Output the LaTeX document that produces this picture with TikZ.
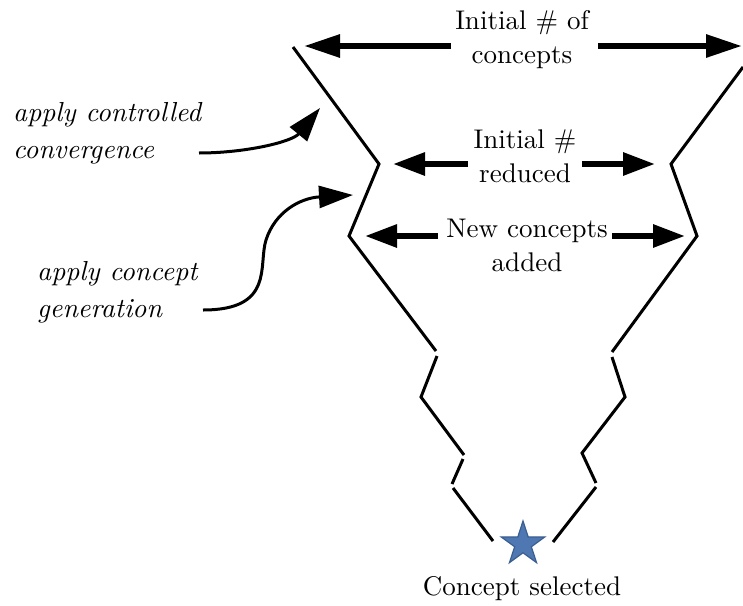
\documentclass[tikz,border=0pt]{standalone}
\usepackage{fontspec}
\IfFontExistsTF{lmroman10-regular.otf}{%
  \setmainfont{lmroman10-regular.otf}[ItalicFont=lmroman10-italic.otf,BoldFont=lmroman10-bold.otf]}{}
\usetikzlibrary{arrows.meta,shapes.geometric}
\tikzset{
  funnel/.style={line width=3pt, line join=miter},
  bigarrow/.style={line width=6pt, -{Triangle[length=36pt,width=22pt]}},
  midarrow/.style={line width=6pt, -{Triangle[length=32pt,width=22pt]}},
  curvarrow/.style={line width=3pt, -{Triangle[length=34pt,width=22pt]}},
  lbl/.style={font=\fontsize{27}{34}\selectfont, inner sep=0pt, align=center},
  sidelbl/.style={font=\fontsize{27.5}{37}\selectfont\itshape, inner sep=0pt, align=left, anchor=north west},
}
\definecolor{starfill}{HTML}{4F78B2}
\definecolor{stardraw}{HTML}{3A5E92}
\begin{document}
\begin{tikzpicture}[x=1pt,y=-1pt]
\useasboundingbox (0,0) rectangle (743,605);
% funnel walls
\draw[funnel] (293,47) -- (379,164) -- (349,236) -- (436,351);
\draw[funnel] (437,356) -- (421,397) -- (464,455);
\draw[funnel] (463,459) -- (452,484);
\draw[funnel] (453,488) -- (493,541);
\draw[funnel] (743,67) -- (671,164) -- (697,236) -- (612,352);
\draw[funnel] (612,357) -- (625,397) -- (582,453) -- (596,483);
\draw[funnel] (596,487) -- (553,542);
% labels
\node[lbl] (top) at (522,40) {Initial \# of\\concepts};
\node[lbl] (mid) at (525,156) {Initial \#\\reduced};
\node[lbl] (low) at (527,245) {New concepts\\added};
\node[lbl] (sel) at (522,589) {Concept selected};
\node[star, star points=5, star point ratio=2.618, minimum size=46pt, inner sep=0pt,
      fill=starfill, draw=stardraw, line width=1.2pt] (star) at (523,544) {};
% coordinates for arrow ends
\coordinate (t1) at (451,46); \coordinate (t1e) at (304,46);
\coordinate (t2) at (598,46); \coordinate (t2e) at (742,46);
\coordinate (m1) at (468,164); \coordinate (m1e) at (393,164);
\coordinate (m2) at (582,164); \coordinate (m2e) at (655,164);
\coordinate (l1) at (438,236); \coordinate (l1e) at (365,236);
\coordinate (l2) at (612,236); \coordinate (l2e) at (685,236);
\draw[bigarrow] (t1) -- (t1e);
\draw[bigarrow] (t2) -- (t2e);
\draw[midarrow] (m1) -- (m1e);
\draw[midarrow] (m2) -- (m2e);
\draw[midarrow] (l1) -- (l1e);
\draw[midarrow] (l2) -- (l2e);
% side labels
\node[sidelbl] (conv) at (13,102) {apply controlled\\convergence};
\node[sidelbl] (gen) at (37,261) {apply concept\\generation};
\coordinate (c1s) at (199,153); \coordinate (c1e) at (320,108);
\coordinate (c2s) at (203,310); \coordinate (c2e) at (353,195);
\draw[curvarrow] (c1s) .. controls (245,153) and (292,142) .. (c1e);
\draw[curvarrow] (c2s) .. controls (275,310) and (258,265) .. (266,240)
  .. controls (275,212) and (300,198) .. (c2e);
\end{tikzpicture}
\end{document}
